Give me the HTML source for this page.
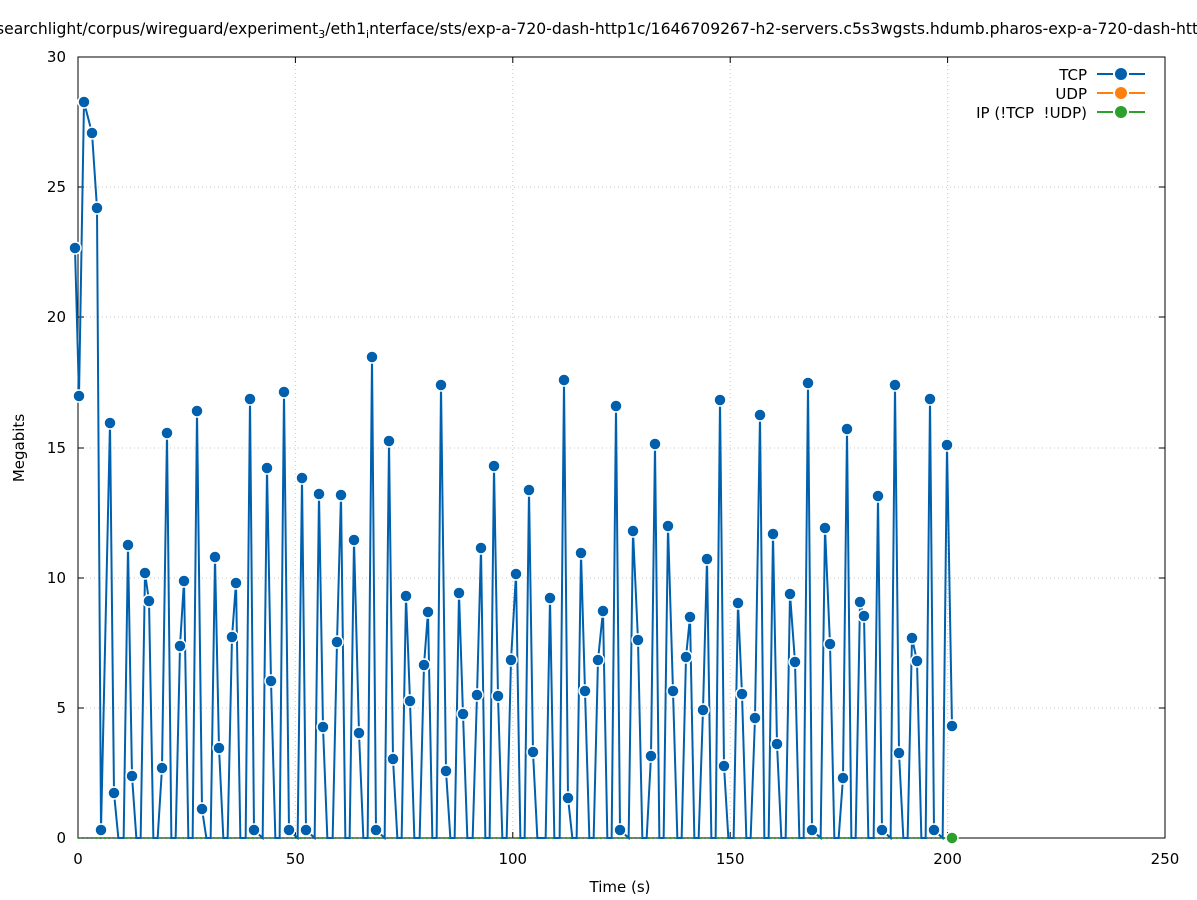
<!DOCTYPE html>
<html><head><meta charset="utf-8"><style>
html,body{margin:0;padding:0;background:#fff;width:1197px;height:900px;overflow:hidden}
svg{display:block;font-family:"DejaVu Sans","Liberation Sans",sans-serif}
</style></head><body>
<svg id="s" width="1197" height="900" xmlns="http://www.w3.org/2000/svg">
<g stroke="#c8c8c8" stroke-width="1" stroke-dasharray="1,3">
<line x1="295.4" y1="57" x2="295.4" y2="838"/><line x1="512.8" y1="57" x2="512.8" y2="838"/>
<line x1="730.2" y1="57" x2="730.2" y2="838"/><line x1="947.6" y1="57" x2="947.6" y2="838"/>
<line x1="78" y1="708" x2="1165" y2="708"/><line x1="78" y1="578" x2="1165" y2="578"/>
<line x1="78" y1="448" x2="1165" y2="448"/><line x1="78" y1="317" x2="1165" y2="317"/>
<line x1="78" y1="187" x2="1165" y2="187"/>
</g>
<rect x="78" y="57" width="1087" height="781" fill="none" stroke="#000" stroke-width="1"/>
<g stroke="#000" stroke-width="1">
<line x1="295.4" y1="838" x2="295.4" y2="832"/><line x1="512.8" y1="838" x2="512.8" y2="832"/><line x1="730.2" y1="838" x2="730.2" y2="832"/><line x1="947.6" y1="838" x2="947.6" y2="832"/>
<line x1="295.4" y1="57" x2="295.4" y2="63"/><line x1="512.8" y1="57" x2="512.8" y2="63"/><line x1="730.2" y1="57" x2="730.2" y2="63"/><line x1="947.6" y1="57" x2="947.6" y2="63"/>
<line x1="78" y1="708" x2="84" y2="708"/><line x1="78" y1="578" x2="84" y2="578"/><line x1="78" y1="448" x2="84" y2="448"/><line x1="78" y1="317" x2="84" y2="317"/><line x1="78" y1="187" x2="84" y2="187"/>
<line x1="1165" y1="708" x2="1159" y2="708"/><line x1="1165" y1="578" x2="1159" y2="578"/><line x1="1165" y1="448" x2="1159" y2="448"/><line x1="1165" y1="317" x2="1159" y2="317"/><line x1="1165" y1="187" x2="1159" y2="187"/>
</g>
<g font-size="15" fill="#000" text-anchor="end">
<text x="66" y="843">0</text><text x="66" y="713">5</text><text x="66" y="583">10</text><text x="66" y="453">15</text><text x="66" y="322">20</text><text x="66" y="192">25</text><text x="66" y="62">30</text>
</g>
<g font-size="15" fill="#000" text-anchor="middle">
<text x="78" y="864">0</text><text x="295.4" y="864">50</text><text x="512.8" y="864">100</text><text x="730.2" y="864">150</text><text x="947.6" y="864">200</text><text x="1165" y="864">250</text>
<text x="620" y="892">Time (s)</text>
</g>
<text x="-4" y="34" font-size="15.6">searchlight/corpus/wireguard/experiment<tspan font-size="11" dy="4">3</tspan><tspan dy="-4">/eth1</tspan><tspan font-size="11" dy="4">i</tspan><tspan dy="-4">nterface/sts/exp-a-720-dash-http1c/1646709267-h2-servers.c5s3wgsts.hdumb.pharos-exp-a-720-dash-http1c</tspan></text>
<text transform="translate(24,448) rotate(-90)" font-size="15" text-anchor="middle">Megabits</text>
<line x1="78" y1="838" x2="952" y2="838" stroke="#2ca02c" stroke-width="2" stroke-dasharray="1.5,2.85"/>
<g id="tcp"></g>
<circle cx="952" cy="838" r="6" fill="#2ca02c" stroke="#fff" stroke-width="1.5"/>
<g font-size="15" text-anchor="end">
<text x="1087" y="80">TCP</text><text x="1087" y="99">UDP</text><text x="1087" y="118">IP (!TCP&#160;&#160;!UDP)</text>
</g>
<g stroke-width="2">
<line x1="1097" y1="74" x2="1113" y2="74" stroke="#0060ad"/><line x1="1129" y1="74" x2="1145" y2="74" stroke="#0060ad"/><circle cx="1121" cy="74" r="6" fill="#0060ad" stroke="none"/>
<line x1="1097" y1="93" x2="1113" y2="93" stroke="#ff7f0e"/><line x1="1129" y1="93" x2="1145" y2="93" stroke="#ff7f0e"/><circle cx="1121" cy="93" r="6" fill="#ff7f0e" stroke="none"/>
<line x1="1097" y1="112" x2="1113" y2="112" stroke="#2ca02c"/><line x1="1129" y1="112" x2="1145" y2="112" stroke="#2ca02c"/><circle cx="1121" cy="112" r="6" fill="#2ca02c" stroke="none"/>
</g>
</svg>
<script>
var P=[[75,248],[79,396],[84,102],[92,133],[97,208],[101,830],[110,423],[114,793],[128,545],[132,776],[145,573],[149,601],[162,768],[167,433],[180,646],[184,581],[197,411],[202,809],[215,557],[219,748],[232,637],[236,583],[250,399],[254,830],[267,468],[271,681],[284,392],[289,830],[302,478],[306,830],[319,494],[323,727],[337,642],[341,495],[354,540],[359,733],[372,357],[376,830],[389,441],[393,759],[406,596],[410,701],[424,665],[428,612],[441,385],[446,771],[459,593],[463,714],[477,695],[481,548],[494,466],[498,696],[511,660],[516,574],[529,490],[533,752],[550,598],[564,380],[568,798],[581,553],[585,691],[598,660],[603,611],[616,406],[620,830],[633,531],[638,640],[651,756],[655,444],[668,526],[673,691],[686,657],[690,617],[703,710],[707,559],[720,400],[724,766],[738,603],[742,694],[755,718],[760,415],[773,534],[777,744],[790,594],[795,662],[808,383],[812,830],[825,528],[830,644],[843,778],[847,429],[860,602],[864,616],[878,496],[882,830],[895,385],[899,753],[912,638],[917,661],[930,399],[934,830],[947,445],[952,726]];
var pts=[];
for(var i=0;i<P.length;i++){
 if(i>0){var a=P[i-1],b=P[i],g=b[0]-a[0];
  if(g>10){ if(a[1]<830)pts.push([a[0]+4.35,838]); if(b[1]<830)pts.push([b[0]-4.35,838]); }
 }
 pts.push(P[i]);
}
var ns="http://www.w3.org/2000/svg",g=document.getElementById('tcp');
var pl=document.createElementNS(ns,'polyline');
pl.setAttribute('points',pts.map(function(p){return p[0]+','+p[1]}).join(' '));
pl.setAttribute('fill','none');pl.setAttribute('stroke','#0060ad');pl.setAttribute('stroke-width','2');
g.appendChild(pl);
P.forEach(function(p){var c=document.createElementNS(ns,'circle');c.setAttribute('cx',p[0]);c.setAttribute('cy',p[1]);c.setAttribute('r','6');c.setAttribute('fill','#0060ad');c.setAttribute('stroke','#fff');c.setAttribute('stroke-width','1.5');g.appendChild(c);});
</script>
</body></html>
